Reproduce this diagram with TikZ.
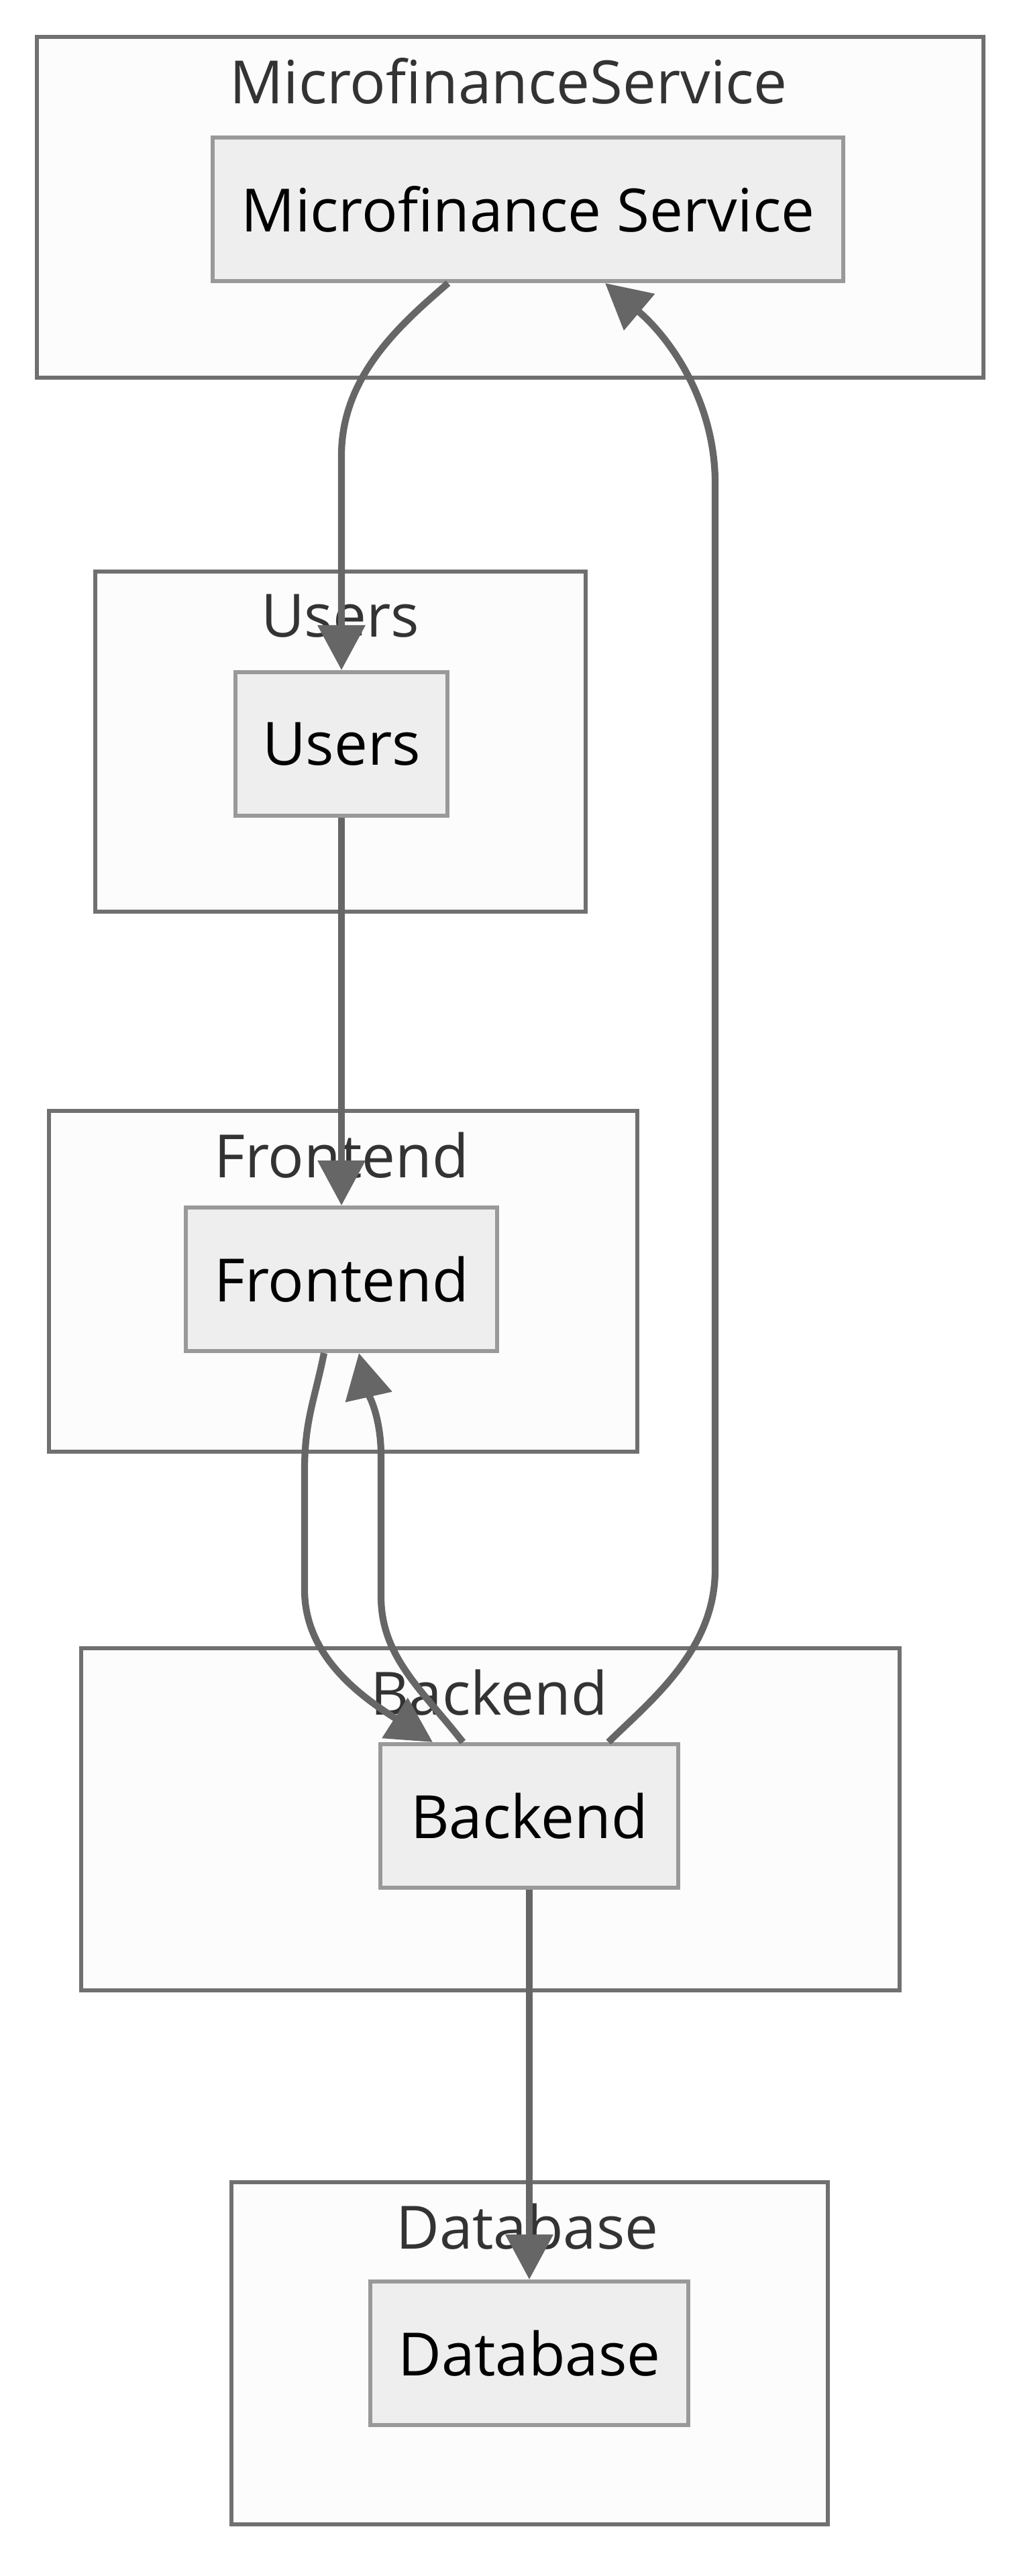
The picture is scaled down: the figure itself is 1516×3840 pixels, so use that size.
\documentclass[tikz,border=0pt]{standalone}
\usepackage{fontspec}
\setmainfont{Open Sans}
\usetikzlibrary{arrows.meta, calc}
\definecolor{clusterfill}{HTML}{FCFCFC}
\definecolor{clusterline}{HTML}{707070}
\definecolor{boxfill}{HTML}{EEEEEE}
\definecolor{boxline}{HTML}{999999}
\definecolor{edgeline}{HTML}{666666}
\definecolor{titletext}{HTML}{333333}

\begin{document}
\begin{tikzpicture}[x=0.01cm, y=-0.01cm,
	cluster/.style={draw=clusterline, fill=clusterfill, line width=1.55pt},
	title/.style={text=titletext, font=\fontsize{25.3}{30}\selectfont, inner sep=0pt},
	box/.style={draw=boxline, fill=boxfill, line width=1.7pt, minimum height=2.14cm, inner sep=0pt, font=\fontsize{25.3}{30}\selectfont},
	edge/.style={draw=edgeline, line width=2.9pt, -{Triangle[length=0.67cm, width=0.69cm]}}]
		% Background and size of the picture
		\fill[white] (0,0) rectangle (1516,3840);
		
		% Draw the clusters
		\draw[cluster] (55,55) rectangle (1466,563);
		\draw[cluster] (142,852) rectangle (873,1359);
		\draw[cluster] (73,1656) rectangle (950,2164);
		\draw[cluster] (121,2457) rectangle (1341,2967);
		\draw[cluster] (345,3253) rectangle (1234,3763);
		
		% Labels for clusters
		\node[title] (msT) at (758, 121) {MicrofinanceService};
		\node[title] (usT) at (507, 918) {Users};
		\node[title] (feT) at (509, 1722) {Frontend};
		\node[title] (beT) at (729, 2523) {Backend};
		\node[title] (dbT) at (786, 3319) {Database};
		
		% The components
		\node[box, minimum width=9.40cm] (ms) at (787, 312) {Microfinance Service};
		\node[box, minimum width=3.15cm] (us) at (509, 1109) {Users};
		\node[box, minimum width=4.63cm] (fe) at (509, 1907) {Frontend};
		\node[box, minimum width=4.43cm] (be) at (789, 2707) {Backend};
		\node[box, minimum width=4.74cm] (db) at (789, 3508) {Database};
		
		% Draw the arrows between the components
		\draw[edge] ($(ms.south)+(-119,0)$) .. controls +(-68,59) and +(0,-120) .. ($(us.north)+(0,-320)$) -- (us.north);
		\draw[edge] (us.south) -- (fe.north);
		\draw[edge] ($(fe.south)+(-26,0)$) .. controls +(-14,70) and +(0,-75) .. ($(fe.south)+(-55,175)$) -- ($(be.north)+(-335,-227)$) .. controls +(0,100) and +(-105,-67) .. ($(be.north)+(-144,0)$);
		\draw[edge] ($(be.north)+(-99,0)$) .. controls +(-60,-77) and +(0,90) .. ($(be.north)+(-221,-217)$) -- ($(fe.south)+(59,153)$) .. controls +(0,-60) and +(13,58) .. ($(fe.south)+(26,0)$);
		\draw[edge] ($(be.north)+(118,0)$) .. controls +(63,-62) and +(0,120) .. ($(be.north)+(277,-257)$) -- ($(ms.south)+(279,298)$) .. controls +(0,-120) and +(98,83) .. ($(ms.south)+(115,0)$);
		\draw[edge] (be.south) -- (db.north);
\end{tikzpicture}
\end{document}
